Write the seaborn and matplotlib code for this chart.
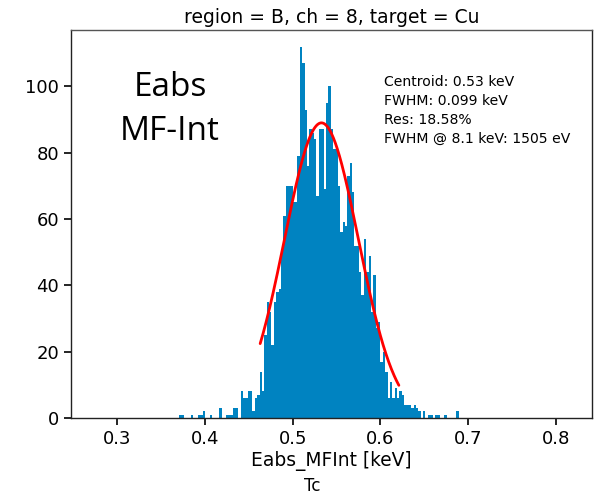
import numpy as np
import pandas as pd
import matplotlib
matplotlib.use("Agg")
import matplotlib.pyplot as plt
import seaborn as sns

# ---- data ----
bin_start = 0.3705      # keV, left edge of first bin
bin_width = 0.0027      # keV
counts = [
    1, 1, 0, 0, 0, 1, 0, 0, 1, 1,
    2, 0, 0, 1, 0, 0, 0, 3, 0, 0,
    1, 1, 1, 3, 3, 0, 8, 6, 6, 8,
    8, 2, 6, 7, 14, 8, 25, 35, 32, 22,
    35, 38, 39, 50, 61, 70, 70, 70, 65, 65,
    79, 112, 107, 93, 76, 87, 86, 84, 67, 87,
    87, 69, 95, 100, 87, 81, 81, 70, 56, 59,
    58, 73, 77, 68, 52, 52, 44, 37, 54, 44,
    49, 32, 43, 27, 29, 17, 20, 14, 6, 11,
    6, 9, 6, 8, 7, 4, 4, 4, 3, 4,
    3, 2, 0, 2, 0, 1, 1, 0, 1, 1,
    0, 0, 1, 0, 0, 0, 0, 2,
]
fit_amp = 89.0
fit_mu = 0.5328
fit_sigma = 0.04204
fit_range = (0.463, 0.621)
title = "region = B, ch = 8, target = Cu"
xlabel = "Eabs_MFInt [keV]"
info_lines = ["Centroid: 0.53 keV", "FWHM: 0.099 keV", "Res: 18.58%",
              "FWHM @ 8.1 keV: 1505 eV"]
big_label = "Eabs\nMF-Int"
x_ticks = [0.3, 0.4, 0.5, 0.6, 0.7, 0.8]
y_ticks = [0, 20, 40, 60, 80, 100]

# ---- build ----
n = len(counts)
edges = bin_start + bin_width * np.arange(n + 1)
centers = 0.5 * (edges[:-1] + edges[1:])
df = pd.DataFrame({"E": centers, "n": np.asarray(counts, dtype=float)})

xf = np.linspace(fit_range[0], fit_range[1], 300)
yf = fit_amp * np.exp(-(xf - fit_mu) ** 2 / (2 * fit_sigma ** 2))
fit_df = pd.DataFrame({"E": xf, "g": yf})

sns.set_style("ticks")
plt.rcParams["font.family"] = ["DejaVu Sans"]
plt.rcParams["text.color"] = "black"
plt.rcParams["axes.labelcolor"] = "black"
plt.rcParams["xtick.color"] = "black"
plt.rcParams["ytick.color"] = "black"

fig = plt.figure(figsize=(6.06, 4.95), dpi=100)
ax = fig.add_axes([71 / 606, 1 - 418 / 495, 521 / 606, 388 / 495])

sns.histplot(data=df, x="E", weights="n", binwidth=bin_width,
             binrange=(float(edges[0]), float(edges[-1])), ax=ax,
             color="#0083c1", alpha=1.0, linewidth=0, edgecolor="none")
sns.lineplot(data=fit_df, x="E", y="g", ax=ax, color="red", linewidth=2)

ax.set_xlim(0.2475, 0.841)
ax.set_ylim(0, 117)
ax.set_xticks(x_ticks)
ax.set_yticks(y_ticks)
ax.tick_params(labelsize=13, length=5, width=1.2, direction="out",
               colors="black")
for name, s in ax.spines.items():
    s.set_visible(True)
    s.set_linewidth(1.0)
    s.set_color("#555555" if name == "top" else "#222222")
ax.set_xlabel(xlabel, fontsize=13.4, labelpad=2, color="black")
ax.set_ylabel("")
ax.set_title(title, fontsize=13.5, pad=5, color="black")

ax.text(0.601, 0.885, "\n".join(info_lines), transform=ax.transAxes,
        fontsize=10.1, va="top", ha="left", linespacing=1.45, color="black")
ax.text(0.19, 0.795, big_label, transform=ax.transAxes, fontsize=24,
        ha="center", va="center", family=["Open Sans", "DejaVu Sans"],
        linespacing=1.45, color="black")
fig.text(312 / 606, 1 - 486 / 495, "Tc", fontsize=12, ha="center",
         va="center", color="black")

fig.savefig("out.png", dpi=100)
